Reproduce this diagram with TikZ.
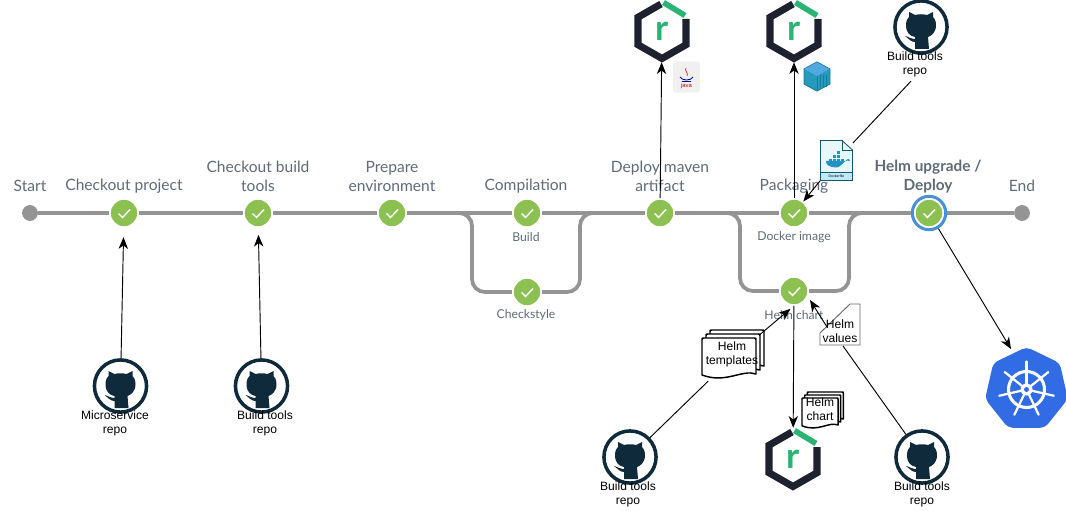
\documentclass[tikz,border=0pt]{standalone}
\usepackage{fontspec}
\setmainfont{Liberation Sans}
\newfontfamily\stagefont{Lato}
\usetikzlibrary{arrows.meta,backgrounds,shapes.geometric}
\definecolor{trackgray}{HTML}{949494}
\definecolor{stagegreen}{HTML}{8CC152}
\definecolor{stagetext}{HTML}{5F6B78}
\definecolor{ringblue}{HTML}{4A90D9}
\definecolor{catnavy}{HTML}{0F2A3A}
\definecolor{hexdark}{HTML}{1E212E}
\definecolor{hexgreen}{HTML}{29B473}
\definecolor{kubeblue}{HTML}{326CE5}
\definecolor{cubeblue}{HTML}{2BB5DC}
\definecolor{cubeedge}{HTML}{1B7C9E}
\definecolor{dockerpale}{HTML}{E6F8FC}
\definecolor{dockerblue}{HTML}{1F93C4}
\tikzset{
  stagedot/.style={circle,fill=stagegreen,draw=white,line width=1.3pt,minimum size=24pt,inner sep=0pt},
  enddot/.style={circle,fill=trackgray,minimum size=13.5pt,inner sep=0pt},
  track/.style={draw=trackgray,line width=3.2pt},
  flow/.style={draw=black,line width=0.8pt,-{Stealth[length=10pt,width=8pt,inset=3pt]}},
  plainflow/.style={draw=black,line width=0.8pt},
  stagelabel/.style={text=stagetext,align=center,inner sep=0pt,font=\stagefont\fontsize{13.3}{16.2}\selectfont},
  sublabel/.style={text=stagetext,align=center,inner sep=0pt,font=\stagefont\fontsize{10.4}{13}\selectfont},
  iconlabel/.style={text=black,align=center,inner sep=0pt,font=\fontsize{10.3}{12}\selectfont},
  repocircle/.style={circle,draw=catnavy,line width=3pt,minimum size=44.5pt,inner sep=0pt},
  hexslot/.style={circle,minimum size=53pt,inner sep=0pt},
  tick/.pic={\draw[white,line width=1.2pt] (-5.5,0.5) -- (-1.5,4.5) -- (6,-3.5);},
  octocat/.pic={
    \fill[catnavy] (-15,-2) .. controls (-15,-7) and (-13,-9) .. (-12,-10) -- (-12,-15)
      -- (-6,-12) .. controls (-2,-13) and (2,-13) .. (6,-12) -- (12,-15) -- (12,-10)
      .. controls (13,-9) and (15,-7) .. (15,-2) .. controls (15,6) and (10,9) .. (7,10)
      -- (8,22) -- (-6,22) -- (-6,15) .. controls (-10,15) and (-12,12) .. (-16,9)
      .. controls (-12,10) and (-10,12) .. (-6,12) -- (-6,10) .. controls (-11,9) and (-15,6) .. (-15,-2) -- cycle;
  },
  nexus/.pic={
    \draw[hexdark,line width=6pt,miter limit=4] (-1,-27) -- (-24,-13.75) -- (-24,13.75) -- (0,27.5) -- (24,13.75) -- (24,-12);
    \draw[hexgreen,line width=4.8pt] (1.5,-28.5) -- (23,-15.5);
    \node[text=hexgreen,inner sep=0pt,font=\stagefont\bfseries\fontsize{30}{30}\selectfont] at (0,0.5) {r};
  },
  docstack/.pic={
    \foreach \off in {8,4,0}{
      \draw[black,fill=white,line width=1.25pt,line join=round] (\off,-\off+2) .. controls (\off,-\off) .. (\off+2,-\off)
        -- (\off+52,-\off) .. controls (\off+54,-\off) .. (\off+54,-\off+2) -- (\off+54,-\off+36)
        .. controls (\off+40,-\off+31) and (\off+24,-\off+46) .. (\off,-\off+37) -- cycle;
    }
  },
}
\begin{document}
\begin{tikzpicture}[x=0.03cm,y=0.03cm]
  \useasboundingbox (0,0) rectangle (1066,-511);
  % stages
  \node[enddot] (start) at (30,-213) {};
  \node[enddot] (finish) at (1022,-213) {};
  \foreach \nm/\x/\y in {checkout/124/213,tools/258/213,prepare/392/213,compile/527/213,checkstyle/527/292,deploy/660/213,packaging/794/213,helmchart/794/291,upgrade/929/213}{
    \node[stagedot] (\nm) at (\x,-\y) {};
    \pic[yscale=-1] at (\nm) {tick};
  }
  \node[circle,draw=ringblue,line width=2.6pt,minimum size=28.5pt,inner sep=0pt] (upgradering) at (upgrade) {};
  \coordinate (splitA) at (472,-213);
  \coordinate (joinA) at (580,-213);
  \coordinate (splitB) at (740,-213);
  \coordinate (joinB) at (849,-213);
  \begin{scope}[on background layer]
    \draw[track] (start) -- (checkout) -- (tools) -- (prepare) -- (compile) -- (deploy) -- (packaging) -- (upgrade) -- (finish);
    \draw[track,rounded corners=11pt] (prepare) -- (splitA) |- (checkstyle);
    \draw[track,rounded corners=11pt] (checkstyle) -| (joinA) -- (deploy);
    \draw[track,rounded corners=11pt] (deploy) -- (splitB) |- (helmchart);
    \draw[track,rounded corners=11pt] (helmchart) -| (joinB) -- (upgrade);
  \end{scope}
  % stage labels
  \node[stagelabel] (lstart) at (30,-186) {Start};
  \node[stagelabel] (lcheckout) at (124,-186) {Checkout project};
  \node[stagelabel] (ltools) at (258,-176.5) {Checkout build\\tools};
  \node[stagelabel] (lprepare) at (392,-176.5) {Prepare\\environment};
  \node[stagelabel] (lcompile) at (526,-186) {Compilation};
  \node[stagelabel] (ldeploy) at (660,-176.5) {Deploy maven\\artifact};
  \node[stagelabel] (lpackaging) at (794,-186) {Packaging};
  \node[stagelabel,font=\stagefont\bfseries\fontsize{13.1}{16.2}\selectfont] (lupgrade) at (928,-176.5) {Helm upgrade /\\Deploy};
  \node[stagelabel] (lfinish) at (1022,-186) {End};
  \node[sublabel] (lbuild) at (526,-237) {Build};
  \node[sublabel] (ldocker) at (794,-237) {Docker image};
  \node[sublabel] (lcheckstyle) at (526,-315) {Checkstyle};
  \node[sublabel] (lhelmchart) at (794,-315) {Helm chart};
  % github repos
  \foreach \nm/\x/\y in {repoMicro/120.5/386,repoBuild/261.5/386,repoDocker/921/27,repoTempl/630/457,repoValues/922/457}{
    \node[repocircle] (\nm) at (\x,-\y) {};
    \pic[yscale=-1] at (\nm) {octocat};
  }
  \node[iconlabel] (lmicro) at (115,-423) {Microservice\\repo};
  \node[iconlabel] (lbuildA) at (265,-423) {Build tools\\repo};
  \node[iconlabel] (lbuildB) at (915,-64) {Build tools\\repo};
  \node[iconlabel] (lbuildC) at (628,-494) {Build tools\\repo};
  \node[iconlabel] (lbuildD) at (922,-494) {Build tools\\repo};
  % nexus
  \foreach \nm/\x/\y in {nexusMaven/662/31,nexusDocker/794/31,nexusHelm/793/459}{
    \node[hexslot] (\nm) at (\x,-\y) {};
    \pic[yscale=-1] at (\nm) {nexus};
  }
  % java file
  \node[rounded corners=2pt,fill=black!6,minimum width=23pt,minimum height=26.5pt,inner sep=0pt] (javafile) at (686.5,-77) {};
  \draw[red!70!black,line width=0.5pt] (686,-68) .. controls (684,-71) and (689,-73) .. (687,-76);
  \draw[blue!60!black,line width=0.7pt] (680,-77) .. controls (682,-81) and (691,-81) .. (693,-77);
  \draw[blue!60!black,line width=0.7pt] (682,-81) -- (691,-81);
  \node[text=red!75!black,inner sep=0pt,font=\fontsize{5}{5}\selectfont] (javatext) at (686.5,-86) {java};
  % container image
  \filldraw[fill=cubeblue!85!black,draw=cubeedge,line width=0.8pt,line join=round] (804,-69) -- (817,-62) -- (830,-69) -- (830,-84) -- (817,-91) -- (804,-84) -- cycle;
  \fill[cyan!75!blue!70] (804.5,-69) -- (817,-62.5) -- (829.5,-69) -- (817,-76) -- cycle;
  \draw[cubeedge,line width=0.4pt] (817,-76) -- (817,-91);
  \foreach \s in {820,823,826}{\draw[cubeedge,line width=0.5pt] (\s,-75) -- (\s,-87);}
  % dockerfile
  \node[minimum width=27.5pt,minimum height=34.5pt,inner sep=0pt] (dockerfile) at (836.5,-160.5) {};
  \filldraw[fill=dockerpale,draw=cubeedge!70!black,line width=0.7pt] (820.5,-140.5) -- (842,-140.5) -- (852.5,-150) -- (852.5,-180.5) -- (820.5,-180.5) -- cycle;
  \draw[cubeedge!70!black,line width=0.5pt] (842,-140.5) -- (842,-150) -- (852.5,-150);
  \fill[dockerblue] (826,-161) -- (845,-161) .. controls (847,-161) and (848,-160) .. (850,-161)
    .. controls (848,-154) and (842,-168) .. (836,-167.5) .. controls (829,-167) and (826,-165) .. (826,-161) -- cycle;
  \foreach \bx/\by in {829/-159,833/-159,837/-159,841/-159,833/-155,837/-155,837/-151}{
    \fill[dockerblue] (\bx,\by) rectangle +(3.2,-3.2);
  }
  \filldraw[fill=cyan!25,draw=cubeedge!70!black,line width=0.5pt] (820.5,-172.5) rectangle (852.5,-180.5);
  \node[text=black,inner sep=0pt,font=\fontsize{3}{3}\selectfont] (dockerfiletext) at (836.5,-176.5) {Dockerfile};
  % kubernetes
  \node[regular polygon,regular polygon sides=7,fill=kubeblue,minimum size=72.5pt,inner sep=0pt,rounded corners=4pt] (kube) at (1026.5,-389.5) {};
  \coordinate (kubetip) at (1011,-349);
  \draw[white,line width=2.6pt] (kube.center) circle (18);
  \foreach \a in {90,141.4,192.9,244.3,295.7,347.1,38.6}{
    \draw[white,line width=1.9pt,line cap=round] (kube.center) -- ++(\a:28);
  }
  \fill[white] (kube.center) circle (6);
  \fill[kubeblue] (kube.center) circle (2.5);
  % helm documents
  \node[minimum width=51pt,minimum height=39pt,inner sep=0pt] (helmtemplates) at (732,-358) {};
  \pic[yscale=-1] at (702,-338) {docstack};
  \node[iconlabel] (ltemplates) at (732,-354) {Helm\\templates};
  \pic[xscale=0.667,yscale=-0.75] at (802,-398) {docstack};
  \node[iconlabel] (lpackage) at (820,-409) {Helm\\chart};
  \filldraw[fill=white,draw=black!60,line width=0.8pt] (850,-304) -- (860,-304) -- (860,-345) -- (820,-345) -- (820,-333) -- cycle;
  \node[iconlabel] (lvalues) at (840,-331) {Helm\\values};
  \coordinate (valuesfoot) at (843,-346);
  \coordinate (valuesout) at (827,-327);
  \coordinate (valuestip) at (810,-300);
  % connectors
  \draw[flow,shorten >=8pt] (repoMicro) -- (checkout);
  \draw[flow,shorten >=6pt] (repoBuild) -- (tools);
  \draw[flow] (deploy) -- (nexusMaven);
  \draw[flow] (packaging) -- (nexusDocker);
  \draw[flow] (upgradering) -- (kubetip);
  \draw[flow] (helmchart) -- (nexusHelm);
  \draw[plainflow,shorten <=5pt] (lbuildB.south) -- (dockerfile);
  \draw[flow] (dockerfile) -- (packaging);
  \draw[plainflow] (repoTempl) -- (helmtemplates);
  \draw[flow,shorten >=4pt] (helmtemplates) -- (helmchart.south);
  \draw[plainflow] (repoValues) -- (valuesfoot);
  \draw[flow] (valuesout) -- (valuestip);
\end{tikzpicture}
\end{document}
